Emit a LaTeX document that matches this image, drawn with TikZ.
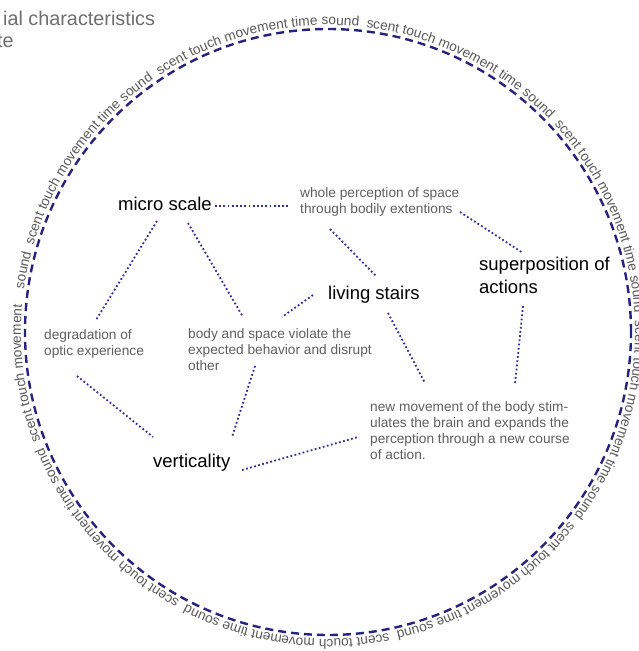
\documentclass[tikz,border=0pt]{standalone}
\usepackage{fontspec}
\setmainfont{Liberation Sans}
\usetikzlibrary{decorations.text}
\definecolor{navy}{RGB}{38,34,128}
\definecolor{dotc}{RGB}{50,48,160}
\definecolor{txtgray}{RGB}{95,95,95}
\definecolor{ringgray}{RGB}{90,90,90}
\definecolor{titlegray}{RGB}{110,110,110}
\begin{document}
\begin{tikzpicture}[x=1pt,y=1pt,
  keynode/.style={anchor=base west, inner sep=0pt, align=left, font=\fontsize{18.5}{22.5}\selectfont, text=black},
  note/.style={anchor=base west, inner sep=0pt, align=left, font=\fontsize{13.7}{16}\selectfont, text=txtgray},
  link/.style={draw=dotc, line width=1.8pt, dash pattern=on 1.8pt off 2.4pt},
  ring/.style={draw=navy, line width=2.4pt, dash pattern=on 8pt off 5pt},
  titlenode/.style={anchor=base west, inner sep=0pt, font=\fontsize{19.8}{23}\selectfont, text=titlegray}]
\clip (0,0) rectangle (638,651);
\fill[white] (0,0) rectangle (638,651);

% title (cut at the left edge)
\node[titlenode] (title1) at (3,625) {ial characteristics};
\node[titlenode] (title2) at (-3,603) {te};

% ring
\coordinate (ctr) at (328,319);
\draw[ring] (ctr) circle[radius=303];
\path[decorate, decoration={text along path,
  text={|\fontsize{13.7}{16}\selectfont\color{ringgray}|sound{\ \ }scent touch movement time sound{\ \ }scent touch movement time sound{\ \ }scent touch movement time sound{\ \ }scent touch movement time sound{\ \ }scent touch movement time sound{\ \ }scent touch movement time sound{\ \ }scent touch movement time sound{\ \ }scent touch movement time sound{\ \ }scent touch movement}}]
  (ctr) ++(172:307) arc[start angle=172, end angle=-188, radius=307];

% nodes (multi-line nodes are placed by the baseline of their last line)
\node[keynode] (micro) at (118,440) {micro scale};
\node[note] (whole) at (300,437) {whole perception of space\\through bodily extentions};
\node[keynode] (living) at (328,351) {living stairs};
\node[keynode] (super) at (479,357.5) {superposition of\\actions};
\node[note] (degr) at (44,295) {degradation of\\optic experience};
\node[note] (body) at (188,280) {body and space violate the\\expected behavior and disrupt\\other};
\node[note] (new) at (370,191) {new movement of the body stim-\\ulates the brain and expands the\\perception through a new course\\of action.};
\node[keynode] (vert) at (153,183) {verticality};

% connectors
\draw[link] ([shift={(97,5)}]micro.base west) -- ([shift={(-11,8)}]whole.base west);
\draw[link] ([shift={(39,-10)}]micro.base west) -- ([shift={(52,36)}]degr.base west);
\draw[link] ([shift={(70,-12)}]micro.base west) -- ([shift={(55,54)}]body.base west);
\draw[link] ([shift={(-15,5)}]living.base west) -- ([shift={(94,54)}]body.base west);
\draw[link] ([shift={(30,-15)}]whole.base west) -- ([shift={(49,23)}]living.base west);
\draw[link] ([shift={(160,2)}]whole.base west) -- ([shift={(44,40.5)}]super.base west);
\draw[link] ([shift={(44,-12.5)}]super.base west) -- ([shift={(145,76)}]new.base west);
\draw[link] ([shift={(60,-13)}]living.base west) -- ([shift={(55,77)}]new.base west);
\draw[link] ([shift={(67,5)}]body.base west) -- ([shift={(79,31)}]vert.base west);
\draw[link] ([shift={(33,-20)}]degr.base west) -- ([shift={(0,31)}]vert.base west);
\draw[link] ([shift={(89,-2)}]vert.base west) -- ([shift={(-12,23)}]new.base west);
\end{tikzpicture}
\end{document}
